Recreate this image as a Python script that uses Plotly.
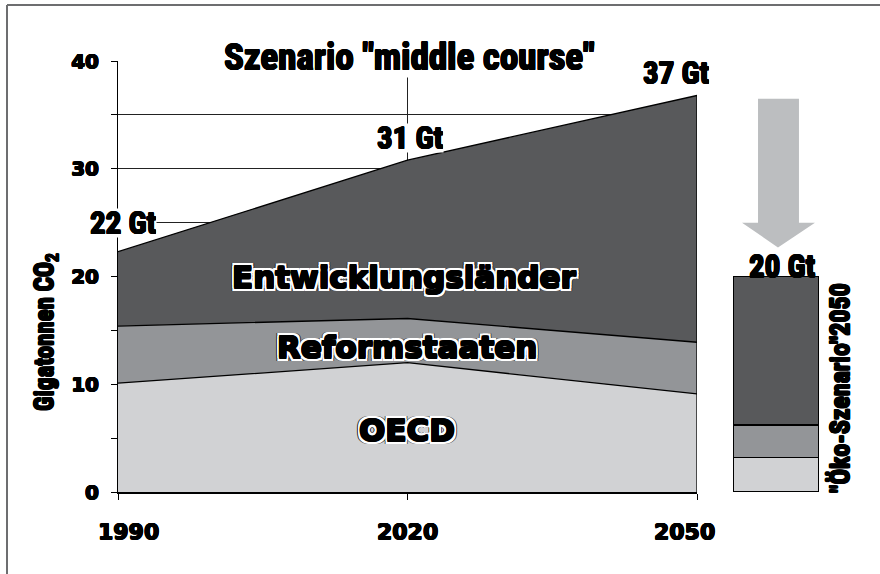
import plotly.graph_objects as go

# ---- data ----
years = [1990, 2020, 2050]
oecd = [10.1, 12.0, 9.1]
reform = [5.3, 4.1, 4.8]
entw = [6.9, 14.7, 22.9]
series_names = ["OECD", "Reformstaaten", "Entwicklungsländer"]

eco_oecd = [3.2]
eco_reform = [3.0]
eco_entw = [13.8]
eco_label = '"Öko-Szenario"2050'

y_tickvals = [0, 10, 20, 30, 40]
y_ticktext = ["0", "10", "20", "30", "40"]
x_ticktext = ["1990", "2020", "2050"]

title_text = 'Szenario "middle course"'
ytitle_text = "Gigatonnen CO<sub>2</sub>"

# ---- styles ----
C_DARK = "#58595b"
C_MID = "#939598"
C_LIGHT = "#d1d2d4"
C_ARROW = "#bcbec0"
NARROW = "Liberation Sans Narrow, Roboto Condensed, Liberation Sans, Arial"
WIDE = "DejaVu Sans, Liberation Sans, Arial"


def ring(r, col):
    pts = [(-r, -r), (r, -r), (-r, r), (r, r), (0, -r), (0, r), (-r, 0), (r, 0)]
    return ", ".join(f"{a}px {b}px 0 {col}" for a, b in pts)


THICK_BIG = ring(0.8, "#000") + ", " + ring(2.6, "#fff") + ", " + ring(3.4, "#2a2a2a")
THICK_TICK = ring(0.5, "#000")
THICK_NARROW = ring(0.6, "#000")

totals = [a + b + c for a, b, c in zip(oecd, reform, entw)]

fig = go.Figure()
for name, vals, col in zip(series_names, [oecd, reform, entw], [C_LIGHT, C_MID, C_DARK]):
    fig.add_trace(go.Scatter(
        x=years, y=vals, stackgroup="one", mode="lines",
        line=dict(color="black", width=1.3), fillcolor=col,
        name=name, showlegend=False, hoverinfo="skip",
        xaxis="x", yaxis="y"))

# right edge of the area
fig.add_trace(go.Scatter(
    x=[years[-1], years[-1]], y=[0, totals[-1]], mode="lines",
    line=dict(color="black", width=1.3), showlegend=False,
    hoverinfo="skip", cliponaxis=False, xaxis="x", yaxis="y"))

# eco-scenario bar
for vals, col in zip([eco_oecd, eco_reform, eco_entw], [C_LIGHT, C_MID, C_DARK]):
    fig.add_trace(go.Bar(
        x=[0], y=vals, width=1, marker=dict(color=col, line=dict(color="black", width=1.5)),
        showlegend=False, hoverinfo="skip", xaxis="x2", yaxis="y2"))

W, H = 880, 574
L, T, R, B = 118, 61, 61, 82
pw = W - L - R
ph = H - T - B


def px(xa):
    return (xa - L) / pw


def py(ya):
    return (H - B - ya) / ph


annotations = []
annotations.append(dict(
    text=title_text, x=2020.2, y=40, xref="x", yref="y", yshift=4,
    showarrow=False, bgcolor="white", borderpad=0, height=40,
    font=dict(family=NARROW, size=37, color="black", weight="bold", shadow=THICK_NARROW)))

total_pos = [(1990.5, 25.0), (2020.3, 32.9), (2047.8, 38.9)]
for t, (xx, yy) in zip(totals, total_pos):
    annotations.append(dict(
        text=f"{round(t)} Gt", x=xx, y=yy, xref="x", yref="y",
        showarrow=False, bgcolor="white", borderpad=0, height=28,
        font=dict(family=NARROW, size=31, color="black", weight="bold", shadow=THICK_NARROW)))

label_pos = [(2019.9, 5.8), (2019.9, 13.5), (2019.7, 20.0)]
for name, (xx, yy) in zip(series_names, label_pos):
    annotations.append(dict(
        text=name, x=xx, y=yy, xref="x", yref="y", showarrow=False,
        font=dict(family=WIDE, size=31, color="black", weight="bold", shadow=THICK_BIG)))

# x tick labels (kept inside the axis span like the reference)
xlabel_shift = [10, 0, -13]
for yr, lab, sh in zip(years, x_ticktext, xlabel_shift):
    annotations.append(dict(
        text=lab, x=yr, y=0, xref="x", yref="y", yanchor="middle", yshift=-39, xshift=sh,
        showarrow=False,
        font=dict(family=WIDE, size=22, color="black", weight="bold", shadow=THICK_TICK)))

eco_total = eco_oecd[0] + eco_reform[0] + eco_entw[0]
annotations.append(dict(
    text=f"{round(eco_total)} Gt", x=0.07, y=20.9, xref="x2", yref="y2",
    showarrow=False,
    font=dict(family=NARROW, size=31, color="black", weight="bold", shadow=THICK_NARROW)))

annotations.append(dict(
    text=eco_label, x=px(840), y=py(388), xref="paper", yref="paper",
    textangle=-90, showarrow=False, xanchor="center", yanchor="middle",
    font=dict(family=NARROW, size=26, color="black", weight="bold", shadow=THICK_NARROW)))

annotations.append(dict(
    text=ytitle_text, x=px(46), y=py(332), xref="paper", yref="paper",
    textangle=-90, showarrow=False, xanchor="center", yanchor="middle",
    font=dict(family=NARROW, size=25, color="black", weight="bold", shadow=THICK_NARROW)))

shapes = [
    # big arrow pointing down to the eco bar
    dict(type="path", xref="x2", yref="y2", layer="above",
         path="M -0.209 36.5 L 0.267 36.5 L 0.267 25.0 L 0.453 25.0 L 0.023 22.7 "
              "L -0.395 25.0 L -0.209 25.0 Z",
         fillcolor=C_ARROW, line=dict(width=0)),
    # frame (top and left)
    dict(type="line", xref="paper", yref="paper", x0=px(7), x1=px(7), y0=py(580), y1=py(5),
         line=dict(color="#6d6e70", width=2)),
    dict(type="line", xref="paper", yref="paper", x0=px(7), x1=px(890), y0=py(5), y1=py(5),
         line=dict(color="#6d6e70", width=2)),
]

fig.update_layout(
    width=W, height=H,
    margin=dict(l=L, r=R, t=T, b=B, autoexpand=False),
    paper_bgcolor="white", plot_bgcolor="white",
    barmode="stack",
    showlegend=False,
    xaxis=dict(domain=[0, px(697)], range=[1990, 2050], tickvals=years,
               showticklabels=False,
               ticks="outside", ticklen=6, tickcolor="black", showline=True,
               linecolor="black", linewidth=2, showgrid=True, gridcolor="#222", gridwidth=1,
               zeroline=False),
    yaxis=dict(range=[0, 40], tickvals=y_tickvals, ticktext=y_ticktext, ticks="outside",
               ticklen=6, tickcolor="black", showline=True, linecolor="black", linewidth=1,
               showgrid=True, gridcolor="#222", gridwidth=1, zeroline=False,
               ticklabelstandoff=8,
               minor=dict(dtick=5, ticks="outside", ticklen=6, tickcolor="black",
                          showgrid=True, gridcolor="#222", gridwidth=1),
               tickfont=dict(family=WIDE, size=20, color="black", weight="bold",
                             shadow=THICK_TICK)),
    xaxis2=dict(domain=[px(733), 1], range=[-0.5, 0.5], visible=False, anchor="y2"),
    yaxis2=dict(domain=[0, 1], range=[0, 40], visible=False, anchor="x2"),
    annotations=annotations,
    shapes=shapes,
)

fig.write_html("out.html", config={"displayModeBar": False},
               post_script="document.body.style.margin='0';")
